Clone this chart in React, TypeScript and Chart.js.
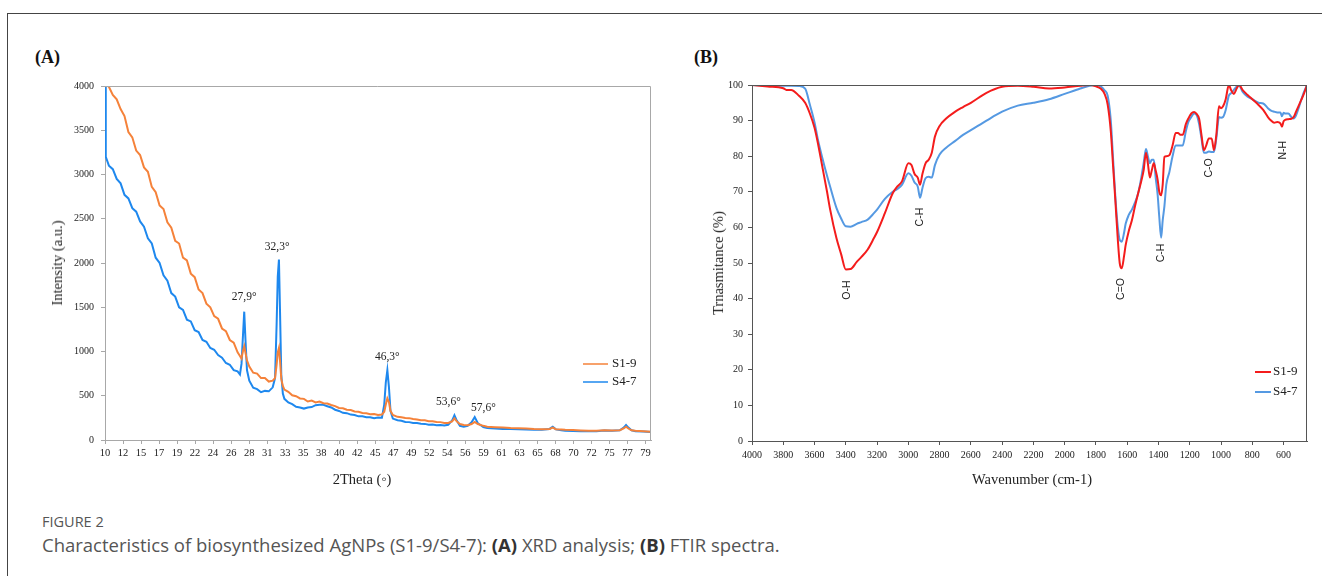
import React, { useEffect, useRef } from "react";
import { Chart, registerables } from "chart.js";

Chart.register(...registerables);

// ---------------- XRD (panel A) ----------------
const THETA = [
  10, 10.1, 10.5, 11, 11.5, 12, 12.5, 13, 13.5, 14, 14.5, 15, 15.5, 16, 16.5, 17, 17.5, 18, 18.5, 19, 19.5, 20, 20.5, 21, 21.5, 22, 22.5, 23, 23.5, 24, 24.5, 25, 25.5, 26, 26.5, 27,
  27.3, 27.5, 27.7, 27.85, 28, 28.2, 28.5, 29, 29.5, 30, 30.5, 31, 31.5, 31.8, 32, 32.15, 32.3, 32.45, 32.6, 32.8, 33,
  33.5, 34, 34.5, 35, 35.5, 36, 36.5, 37, 37.5, 38, 38.5, 39, 39.5, 40, 40.5, 41, 41.5, 42, 42.5, 43, 43.5, 44, 44.5, 45, 45.5,
  45.8, 46, 46.2, 46.4, 46.6, 46.9, 47.5, 48, 48.5, 49, 49.5, 50, 50.5, 51, 51.5, 52, 52.5, 53, 53.5, 54,
  54.5, 54.8, 55.1, 55.5, 56, 56.5, 57, 57.4, 57.8, 58.5, 59, 60, 61, 62, 63, 64, 65, 66, 67, 67.4, 67.8, 68.5, 69, 70, 71, 72, 73, 74, 75, 76, 76.5, 76.8, 77.1, 77.5, 78, 79, 80,
];

const XRD_S19 = [
  4050, 4030, 3990, 3900, 3850, 3740, 3660, 3480, 3420, 3270, 3220, 3080, 3030, 2860, 2800, 2650, 2610, 2460, 2400, 2250, 2220, 2060, 2030, 1880, 1840, 1700, 1660, 1540, 1500, 1400, 1370, 1260, 1230, 1130, 1100, 990,
  950, 920, 1010, 1060, 990, 900, 830, 760, 750, 700, 700, 660, 670, 700, 850, 990, 1040, 880, 690, 610, 570,
  545, 505, 495, 470, 465, 435, 445, 425, 435, 415, 412, 395, 383, 362, 358, 342, 338, 322, 318, 305, 302, 292, 293, 282, 288,
  320, 400, 470, 430, 330, 282, 262, 257, 248, 247, 238, 232, 223, 222, 213, 212, 203, 202, 193, 192,
  210, 245, 210, 180, 170, 168, 180, 205, 180, 160, 150, 145, 140, 135, 132, 130, 125, 122, 125, 140, 122, 118, 115, 112, 108, 105, 105, 110, 108, 110, 130, 150, 130, 110, 105, 98, 92,
];

const XRD_S47 = [
  4300, 3200, 3100, 3060, 2950, 2900, 2770, 2730, 2620, 2580, 2470, 2410, 2280, 2220, 2060, 2000, 1860, 1800, 1660, 1620, 1500, 1470, 1360, 1340, 1240, 1220, 1130, 1110, 1040, 1020, 960, 930, 870, 850, 790, 775,
  740, 860, 1200, 1450, 1150, 790, 670, 590, 575, 540, 555, 550, 595, 700, 1300, 1850, 2040, 1400, 740, 525, 465,
  425, 405, 375, 368, 355, 368, 372, 393, 398, 397, 382, 368, 342, 328, 307, 303, 287, 283, 267, 268, 257, 258, 247, 253, 252,
  400, 650, 790, 600, 330, 242, 223, 217, 203, 202, 193, 192, 183, 182, 173, 174, 168, 170, 163, 172,
  220, 280, 220, 160, 150, 160, 200, 260, 190, 145, 135, 130, 125, 125, 122, 120, 115, 115, 125, 150, 120, 110, 105, 102, 100, 98, 100, 108, 105, 110, 140, 170, 140, 110, 100, 95, 90,
];

const XRD_SERIES = ["S1-9", "S4-7"];
const XRD_X_TICKS = ["10", "12", "15", "17", "19", "22", "24", "26", "28", "31", "33", "35", "38", "40", "42", "45", "47", "49", "52", "54", "56", "59", "61", "63", "65", "68", "70", "72", "75", "77", "79"];
const XRD_X_TICK_STEP = 2.31;
const XRD_PEAK_LABELS = ["27,9°", "32,3°", "46,3°", "53,6°", "57,6°"];
const XRD_PEAK_THETA = [27.84, 32.08, 46.2, 54.03, 58.52];
const XRD_PEAK_INTENSITY = [1616, 2181, 938, 429, 362];

// ---------------- FTIR (panel B) ----------------
const WAVENUMBER = [
  4000, 3900, 3800, 3780, 3750, 3700, 3660, 3630, 3600, 3580,
  3550, 3520, 3500, 3460, 3430, 3400, 3370, 3330, 3300, 3260,
  3220, 3200, 3150, 3100, 3070, 3040, 3000, 2980, 2960, 2940,
  2925, 2910, 2890, 2870, 2850, 2830, 2800, 2760, 2700, 2650,
  2600, 2500, 2400, 2300, 2200, 2100, 2000, 1900, 1840, 1800,
  1770, 1745, 1725, 1705, 1690, 1675, 1660, 1648, 1635, 1620,
  1610, 1590, 1570, 1550, 1530, 1510, 1495, 1480, 1468, 1455,
  1443, 1430, 1418, 1405, 1395, 1383, 1373, 1362, 1350, 1330,
  1310, 1290, 1275, 1260, 1245, 1225, 1210, 1190, 1172, 1155,
  1140, 1125, 1110, 1095, 1078, 1060, 1045, 1030, 1013, 1000,
  987, 970, 950, 935, 918, 900, 885, 860, 830, 800,
  760, 730, 700, 680, 660, 640, 620, 610, 600, 590,
  570, 550, 535, 520, 500, 487, 470, 450,
];

const FTIR_S19 = [
  100, 99.6, 99.1, 98.6, 98.6, 97, 95, 92, 88, 84,
  77, 70, 65, 57, 52.5, 48.2, 48.3, 50.3, 51.7, 53.8,
  57, 58.7, 64, 69.6, 71.5, 73, 78, 77.5, 75, 74,
  72, 75, 78, 79, 81, 85.5, 88.5, 90.5, 92.5, 93.8,
  95, 97.8, 99.5, 99.8, 99.5, 99, 99.3, 99.8, 100, 99.6,
  99, 97.5, 94.5, 87, 77, 67, 56.5, 50, 48.5, 52,
  55, 59, 62, 66, 69.6, 73, 76, 81, 78, 74,
  76, 78, 76, 73.3, 70, 69, 72, 79.8, 80, 80.3,
  83, 86.5, 86.5, 86, 86, 89, 90.5, 92, 92.4, 91.8,
  90.5, 86, 81.7, 83, 85, 85, 81.7, 86, 94, 93.5,
  94, 96, 100, 98.5, 97.5, 99, 100, 98.5, 97.2, 96,
  94.4, 93, 91, 90, 89.4, 89.6, 89.2, 88.3, 89.8, 90.2,
  90.4, 90.5, 91, 92.5, 94.5, 95.8, 97.5, 100,
];

const FTIR_S47 = [
  100, 99.9, 99.8, 99.8, 99.8, 99.7, 99, 94.5, 89.5, 85,
  79.5, 74.5, 71.4, 65.5, 62.5, 60.3, 60.2, 61, 61.5, 62.2,
  64, 65, 68, 70, 70.8, 72, 75.2, 74.5, 72.6, 71.5,
  68.3, 71, 73.8, 74.2, 74, 77.5, 80.5, 82.3, 84.3, 86,
  87.3, 90, 92.5, 94.2, 95, 96, 97.5, 99, 99.8, 100,
  99.6, 98.5, 97, 90, 79, 68, 60, 56.5, 56, 58.5,
  61, 63.5, 65, 67, 69.6, 74, 78, 82, 80, 78,
  79, 79, 74, 69, 63, 57.1, 62, 66, 72, 75.6,
  80, 83, 83, 83, 83, 87, 89.5, 91, 92, 91.5,
  89, 85, 81, 81, 81.3, 81.2, 81.2, 85, 91, 90.8,
  91, 93, 97, 97.7, 98.6, 99.6, 99.8, 98, 96.7, 96,
  95, 94.8, 93.5, 92.8, 92.5, 92.3, 92.3, 91.2, 92.2, 92,
  92, 91, 90.6, 91.5, 94, 95.8, 98, 100,
];

const FTIR_SERIES = ["S1-9", "S4-7"];
const FTIR_X_TICKS = [4000, 3800, 3600, 3400, 3200, 3000, 2800, 2600, 2400, 2200, 2000, 1800, 1600, 1400, 1200, 1000, 800, 600];
const FTIR_BAND_LABELS = ["O-H", "C-H", "C=O", "C-H", "C-O", "N-H"];
const FTIR_BAND_WAVENUMBER = [3391, 2923, 1641, 1385, 1077, 603];
const FTIR_BAND_T = [42.4, 62.9, 42.7, 52.8, 76.7, 81.7];

const SERIF = "'Liberation Serif', 'Times New Roman', serif";
const SANS = "'Liberation Sans', Arial, sans-serif";

const toPts = (xs: number[], ys: number[]) => xs.map((x, i) => ({ x, y: ys[i] }));

function axisStyle(color: string) {
  return {
    grid: { display: true, drawOnChartArea: false, drawTicks: true, tickLength: 4, color, lineWidth: 1 },
    border: { display: true, color, width: 1 },
  };
}

const xrdExtras = {
  id: "xrdExtras",
  afterDraw(chart: any) {
    const { ctx, chartArea: a, scales } = chart;
    ctx.save();
    ctx.strokeStyle = "#A8A8A8";
    ctx.lineWidth = 1;
    ctx.beginPath();
    ctx.moveTo(a.left, a.top + 0.5);
    ctx.lineTo(a.right - 0.5, a.top + 0.5);
    ctx.lineTo(a.right - 0.5, a.bottom);
    ctx.stroke();

    ctx.fillStyle = "#222";
    ctx.font = `11.5px ${SERIF}`;
    ctx.textAlign = "center";
    ctx.textBaseline = "middle";
    XRD_PEAK_LABELS.forEach((t, i) => {
      ctx.fillText(t, scales.x.getPixelForValue(XRD_PEAK_THETA[i]), scales.y.getPixelForValue(XRD_PEAK_INTENSITY[i]));
    });

    ctx.font = `13px ${SERIF}`;
    ctx.textAlign = "left";
    chart.data.datasets.forEach((ds: any, i: number) => {
      const y = a.top + 278 + i * 18;
      ctx.strokeStyle = ds.borderColor;
      ctx.lineWidth = 1.5;
      ctx.beginPath();
      ctx.moveTo(a.right - 68, y);
      ctx.lineTo(a.right - 43, y);
      ctx.stroke();
      ctx.fillStyle = "#222";
      ctx.fillText(ds.label, a.right - 39, y);
    });
    ctx.restore();
  },
};

const ftirExtras = {
  id: "ftirExtras",
  afterDraw(chart: any) {
    const { ctx, chartArea: a, scales } = chart;
    ctx.save();
    ctx.strokeStyle = "#555";
    ctx.lineWidth = 1;
    ctx.beginPath();
    ctx.moveTo(a.left, a.top + 0.5);
    ctx.lineTo(a.right - 0.5, a.top + 0.5);
    ctx.lineTo(a.right - 0.5, a.bottom);
    ctx.stroke();

    ctx.fillStyle = "#222";
    ctx.font = `10.5px ${SANS}`;
    ctx.textAlign = "center";
    ctx.textBaseline = "middle";
    FTIR_BAND_LABELS.forEach((t, i) => {
      const x = scales.x.getPixelForValue(FTIR_BAND_WAVENUMBER[i]);
      const y = scales.y.getPixelForValue(FTIR_BAND_T[i]);
      ctx.save();
      ctx.translate(x, y);
      ctx.rotate(-Math.PI / 2);
      ctx.fillText(t, 0, 0);
      ctx.restore();
    });

    ctx.font = `13px ${SERIF}`;
    ctx.textAlign = "left";
    chart.data.datasets.forEach((ds: any, i: number) => {
      const y = a.top + 287 + i * 20;
      ctx.strokeStyle = ds.borderColor;
      ctx.lineWidth = 2;
      ctx.beginPath();
      ctx.moveTo(a.right - 52, y);
      ctx.lineTo(a.right - 36, y);
      ctx.stroke();
      ctx.fillStyle = "#222";
      ctx.fillText(ds.label, a.right - 34, y);
    });
    ctx.restore();
  },
};

const tickFont = (size: number) => ({ family: SERIF, size });

function XrdChart() {
  const ref = useRef<HTMLCanvasElement | null>(null);
  useEffect(() => {
    if (!ref.current) return;
    const grey = "#A8A8A8";
    const chart = new Chart(ref.current, {
      type: "line",
      data: {
        datasets: [
          { label: XRD_SERIES[0], data: toPts(THETA, XRD_S19), borderColor: "#F5823A", borderWidth: 2, pointRadius: 0, tension: 0 },
          { label: XRD_SERIES[1], data: toPts(THETA, XRD_S47), borderColor: "#1E88EE", borderWidth: 2, pointRadius: 0, tension: 0 },
        ],
      },
      options: {
        animation: false,
        responsive: false,
        devicePixelRatio: 1,
        layout: { autoPadding: false, padding: { top: 16, right: 29, left: 0, bottom: 0 } },
        plugins: { legend: { display: false }, tooltip: { enabled: false } },
        scales: {
          x: {
            type: "linear",
            min: 10,
            max: 80,
            ...axisStyle(grey),
            afterBuildTicks: (s: any) => {
              s.ticks = XRD_X_TICKS.map((_, i) => ({ value: 10 + i * XRD_X_TICK_STEP }));
            },
            afterFit: (s: any) => { s.height = 40; },
            ticks: { color: "#222", font: tickFont(10.5), padding: 3, autoSkip: false, maxRotation: 0, callback: (_v: any, i: number) => XRD_X_TICKS[i] },
          },
          y: {
            type: "linear",
            min: 0,
            max: 4000,
            ...axisStyle(grey),
            afterFit: (s: any) => { s.width = 105; },
            ticks: { color: "#222", font: tickFont(10), padding: 7, stepSize: 500, callback: (v: any) => String(v) },
          },
        },
      },
      plugins: [xrdExtras],
    } as any);
    return () => chart.destroy();
  }, []);
  return <canvas ref={ref} width={680} height={410} style={{ position: "absolute", left: 0, top: 70, width: 680, height: 410 }} />;
}

function FtirChart() {
  const ref = useRef<HTMLCanvasElement | null>(null);
  useEffect(() => {
    if (!ref.current) return;
    const dark = "#555";
    const chart = new Chart(ref.current, {
      type: "line",
      data: {
        datasets: [
          { label: FTIR_SERIES[0], data: toPts(WAVENUMBER, FTIR_S19), borderColor: "#F41C1C", borderWidth: 2, pointRadius: 0, cubicInterpolationMode: "monotone" },
          { label: FTIR_SERIES[1], data: toPts(WAVENUMBER, FTIR_S47), borderColor: "#5599E2", borderWidth: 2, pointRadius: 0, cubicInterpolationMode: "monotone" },
        ],
      },
      options: {
        animation: false,
        responsive: false,
        devicePixelRatio: 1,
        layout: { autoPadding: false, padding: { top: 15, right: 15, left: 0, bottom: 0 } },
        plugins: { legend: { display: false }, tooltip: { enabled: false } },
        scales: {
          x: {
            type: "linear",
            reverse: true,
            min: 450,
            max: 4000,
            ...axisStyle(dark),
            afterBuildTicks: (s: any) => {
              s.ticks = FTIR_X_TICKS.map((v) => ({ value: v }));
            },
            afterFit: (s: any) => { s.height = 39; },
            ticks: { color: "#222", font: tickFont(10), padding: 4, autoSkip: false, maxRotation: 0, callback: (v: any) => String(v) },
          },
          y: {
            type: "linear",
            min: 0,
            max: 100,
            ...axisStyle(dark),
            afterFit: (s: any) => { s.width = 72; },
            ticks: { color: "#222", font: tickFont(10), padding: 5, stepSize: 10, callback: (v: any) => String(v) },
          },
        },
      },
      plugins: [ftirExtras],
    } as any);
    return () => chart.destroy();
  }, []);
  return <canvas ref={ref} width={642} height={410} style={{ position: "absolute", left: 680, top: 70, width: 642, height: 410 }} />;
}

const abs = (left: number, top: number, extra: React.CSSProperties = {}): React.CSSProperties => ({
  position: "absolute",
  left,
  top,
  whiteSpace: "nowrap",
  ...extra,
});

export default function App() {
  const titleFont: React.CSSProperties = { fontFamily: SERIF, fontSize: 14.5, color: "#222", lineHeight: "18px" };
  const capFont = "'Open Sans', 'Noto Sans', sans-serif";
  return (
    <div>
      <div
        style={{
          position: "absolute",
          left: 7,
          top: 13,
          width: 1315,
          height: 563,
          boxSizing: "border-box",
          borderTop: "1px solid #444",
          borderLeft: "1px solid #444",
        }}
      />
      <div style={abs(35, 46, { fontFamily: SERIF, fontWeight: "bold", fontSize: 18, lineHeight: "22px", color: "#111" })}>(A)</div>
      <div style={abs(694, 46, { fontFamily: SERIF, fontWeight: "bold", fontSize: 18, lineHeight: "22px", color: "#111" })}>(B)</div>
      <XrdChart />
      <FtirChart />
      <div style={abs(57, 263, { ...titleFont, transform: "translate(-50%, -50%) rotate(-90deg)" })}>Intensity (a.u.)</div>
      <div style={abs(362, 479, { ...titleFont, transform: "translate(-50%, -50%)" })}>2Theta (◦)</div>
      <div style={abs(718, 263, { ...titleFont, transform: "translate(-50%, -50%) rotate(-90deg)" })}>Trnasmitance (%)</div>
      <div style={abs(1032, 479, { ...titleFont, transform: "translate(-50%, -50%)" })}>Wavenumber (cm-1)</div>
      <div style={abs(42, 512, { fontFamily: capFont, fontSize: 14.5, lineHeight: "20px", color: "#555" })}>FIGURE 2</div>
      <div style={abs(42, 533, { fontFamily: capFont, fontSize: 18.5, lineHeight: "24px", color: "#555" })}>
        Characteristics of biosynthesized AgNPs (S1-9/S4-7): <b style={{ color: "#333" }}>(A)</b> XRD analysis; <b style={{ color: "#333" }}>(B)</b> FTIR spectra.
      </div>
    </div>
  );
}
